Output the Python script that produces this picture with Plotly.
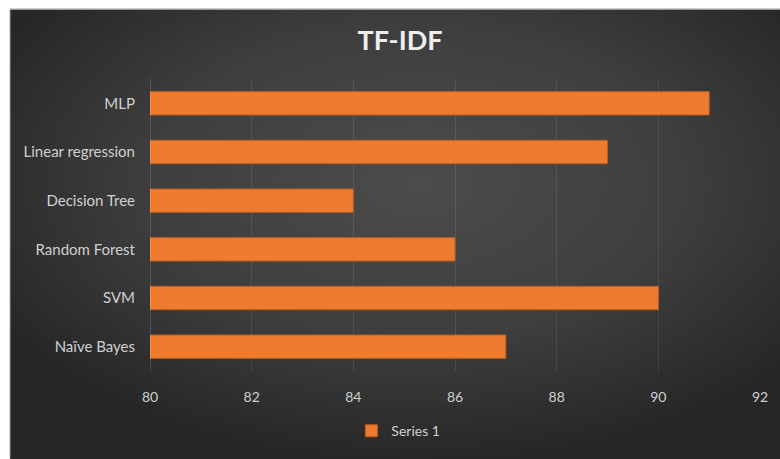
import base64
import plotly.graph_objects as go

# Accuracy (%) per classifier, TF-IDF features
models = ["Naïve Bayes", "SVM", "Random Forest", "Decision Tree", "Linear regression", "MLP"]
scores = [87, 90, 86, 84, 89, 91]
x_ticks = [80, 82, 84, 86, 88, 90, 92]

W, H = 780, 459
L, R, T, B = 150, 16, 79, 79
pw, ph = W - L - R, H - T - B

# Dark radial-gradient backdrop
svg = (
    '<svg xmlns="http://www.w3.org/2000/svg" width="800" height="470" viewBox="0 0 800 470" preserveAspectRatio="none">'
    '<defs><radialGradient id="g" cx="0.52" cy="0.38" r="0.62" gradientUnits="objectBoundingBox">'
    '<stop offset="0" stop-color="#4c4c4c"/><stop offset="0.55" stop-color="#3e3e3e"/>'
    '<stop offset="1" stop-color="#262626"/></radialGradient></defs>'
    '<rect width="800" height="470" fill="url(#g)"/></svg>'
)
bg_src = "data:image/svg+xml;base64," + base64.b64encode(svg.encode()).decode()

fig = go.Figure(
    go.Bar(
        x=scores,
        y=models,
        orientation="h",
        name="Series 1",
        marker=dict(color="#EE7B2E", line=dict(color="#b85f1f", width=1)),
        showlegend=True,
    )
)

def px_x(v):
    return (v - L) / pw

def px_y(v):
    return 1 - (v - T) / ph

FONT = "Lato, 'Open Sans', sans-serif"

fig.update_layout(
    width=W,
    height=H,
    margin=dict(l=L, r=R, t=T, b=B),
    paper_bgcolor="white",
    plot_bgcolor="rgba(0,0,0,0)",
    bargap=0.52,
    font=dict(family=FONT, color="#d9d9d9", size=15),
    title=dict(
        text="<b>TF-IDF</b>",
        x=400 / W,
        xanchor="center",
        xref="container",
        y=1 - 41 / H,
        yref="container",
        yanchor="middle",
        font=dict(size=27, color="#eeeeee", family=FONT),
    ),
    xaxis=dict(
        range=[80, 92],
        tickvals=x_ticks,
        showgrid=True,
        gridcolor="rgba(255,255,255,0.09)",
        gridwidth=1,
        zeroline=False,
        showline=False,
        ticks="",
        ticklabelstandoff=16,
        tickfont=dict(size=14, color="#d0d0d0"),
        fixedrange=True,
    ),
    yaxis=dict(
        categoryorder="array",
        categoryarray=models,
        showgrid=False,
        zeroline=False,
        showline=False,
        ticks="",
        ticklabelstandoff=14,
        tickfont=dict(size=15, color="#d0d0d0"),
        fixedrange=True,
    ),
    legend=dict(
        orientation="h",
        x=px_x(400),
        y=px_y(442),
        xanchor="center",
        yanchor="middle",
        bgcolor="rgba(0,0,0,0)",
        font=dict(size=14, color="#d0d0d0"),
        itemwidth=30,
    ),
    images=[
        dict(
            source=bg_src,
            xref="paper",
            yref="paper",
            x=px_x(9),
            y=px_y(7),
            sizex=790 / pw,
            sizey=470 / ph,
            sizing="stretch",
            xanchor="left",
            yanchor="top",
            layer="below",
        )
    ],
    shapes=[
        # axis line at the 80 baseline
        dict(type="line", xref="x", yref="paper", x0=80, x1=80, y0=0, y1=1,
             line=dict(color="rgba(255,255,255,0.3)", width=1), layer="above"),
        # light rim along the top and left edges
        dict(type="line", xref="paper", yref="paper", x0=px_x(9), x1=px_x(800),
             y0=px_y(7), y1=px_y(7), line=dict(color="#9a9a9a", width=1.5)),
        dict(type="line", xref="paper", yref="paper", x0=px_x(9), x1=px_x(9),
             y0=px_y(7), y1=px_y(470), line=dict(color="#bdbdbd", width=1)),
    ],
)

fig.write_html("out.html")
